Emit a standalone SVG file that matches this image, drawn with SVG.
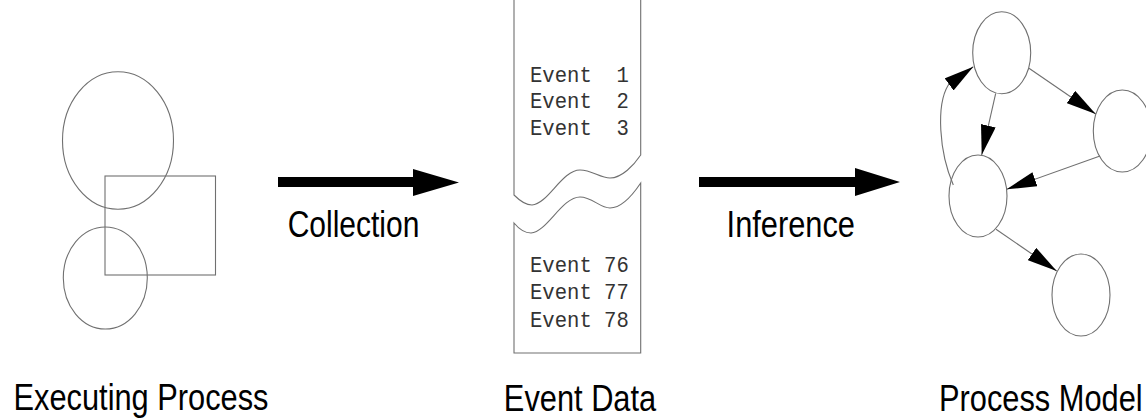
<svg xmlns="http://www.w3.org/2000/svg" width="1146" height="418" viewBox="0 0 1146 418">
  <style>
    .outline { fill: none; stroke: #707070; stroke-width: 1.1; }
    .node { fill: #ffffff; stroke: #707070; stroke-width: 1.1; }
    .edge { fill: none; stroke: #707070; stroke-width: 1.1; marker-end: url(#head); }
    .bigarrow { fill: #000000; }
    .label { font-family: "Liberation Sans", Arial, sans-serif; font-size: 30.8px; fill: #000000; text-anchor: middle; }
    .rec { font-family: "Liberation Mono", "Courier New", monospace; font-size: 20.6px; fill: #333333; white-space: pre; }
  </style>
  <defs>
    <marker id="head" markerUnits="userSpaceOnUse" markerWidth="32" markerHeight="16" refX="30" refY="7.5" orient="auto" viewBox="0 0 32 16">
      <path d="M0,0 L30,7.5 L0,15 Z" fill="#000000"/>
    </marker>
  </defs>

  <rect width="1146" height="418" fill="#ffffff"/>

  <!-- running process: two ellipses and a box -->
  <g id="executing-process">
    <ellipse class="outline" cx="118" cy="140.5" rx="55.5" ry="68.7"/>
    <rect class="outline" x="105" y="176" width="110.5" height="99"/>
    <ellipse class="outline" cx="105.3" cy="278" rx="42" ry="51"/>
  </g>

  <!-- event log document, torn in the middle -->
  <g id="event-data">
    <path class="outline" d="M514,-2 V195 C519,200 526,205 532,205 C548,204 562,170 580,170 C592,170 600,178 610,178 C622,178 634,165 640.7,155 V-2"/>
    <path class="outline" d="M514,223 C519,229 525,233 531,233 C547,232 562,197 580,197 C592,197 600,208 610,208 C622,208 634,193 640.7,183 V353 H514 Z"/>
    <text class="rec" xml:space="preserve" transform="translate(530,81.7) scale(1,1.1)">Event  1</text>
    <text class="rec" xml:space="preserve" transform="translate(530,108.3) scale(1,1.1)">Event  2</text>
    <text class="rec" xml:space="preserve" transform="translate(530,135) scale(1,1.1)">Event  3</text>
    <text class="rec" xml:space="preserve" transform="translate(530,272.3) scale(1,1.1)">Event 76</text>
    <text class="rec" xml:space="preserve" transform="translate(530,299.3) scale(1,1.1)">Event 77</text>
    <text class="rec" xml:space="preserve" transform="translate(530,326.7) scale(1,1.1)">Event 78</text>
  </g>

  <!-- inferred model -->
  <g id="model-a"><ellipse class="node" cx="1001.7" cy="52.8" rx="29" ry="41"/></g>
  <g id="model-b"><ellipse class="node" cx="1122.3" cy="131" rx="29" ry="41"/></g>
  <g id="model-c"><ellipse class="node" cx="978" cy="196" rx="29" ry="41"/></g>
  <g id="model-d"><ellipse class="node" cx="1081" cy="295" rx="29" ry="41"/></g>

  <g id="connectors">
    <path class="bigarrow" d="M278,177 H413 V169 L459,182.4 L413,196 V187 H278 Z"/>
    <path class="bigarrow" d="M699,177 H855 V168 L900,182 L855,196 V187 H699 Z"/>
    <path class="edge" d="M1029,68.3 L1095.7,114"/>
    <path class="edge" d="M995.7,93.3 L981.7,155"/>
    <path class="edge" d="M1100,156 L1006.7,189.3"/>
    <path class="edge" d="M996,229.3 L1056.7,271"/>
    <path class="edge" d="M953.3,185 C939,152 936,105 948.3,85 L973.3,66.7"/>
  </g>

  <g id="labels">
    <text class="label" style="font-size:30px" transform="translate(353.5,237.3) scale(1,1.24)">Collection</text>
    <text class="label" transform="translate(790.8,237) scale(1,1.22)">Inference</text>
    <text class="label" transform="translate(141,409.5) scale(1,1.22)">Executing Process</text>
    <text class="label" transform="translate(580,410.5) scale(1,1.22)">Event Data</text>
    <text class="label" transform="translate(1040.8,410.5) scale(1,1.22)">Process Model</text>
  </g>
</svg>
